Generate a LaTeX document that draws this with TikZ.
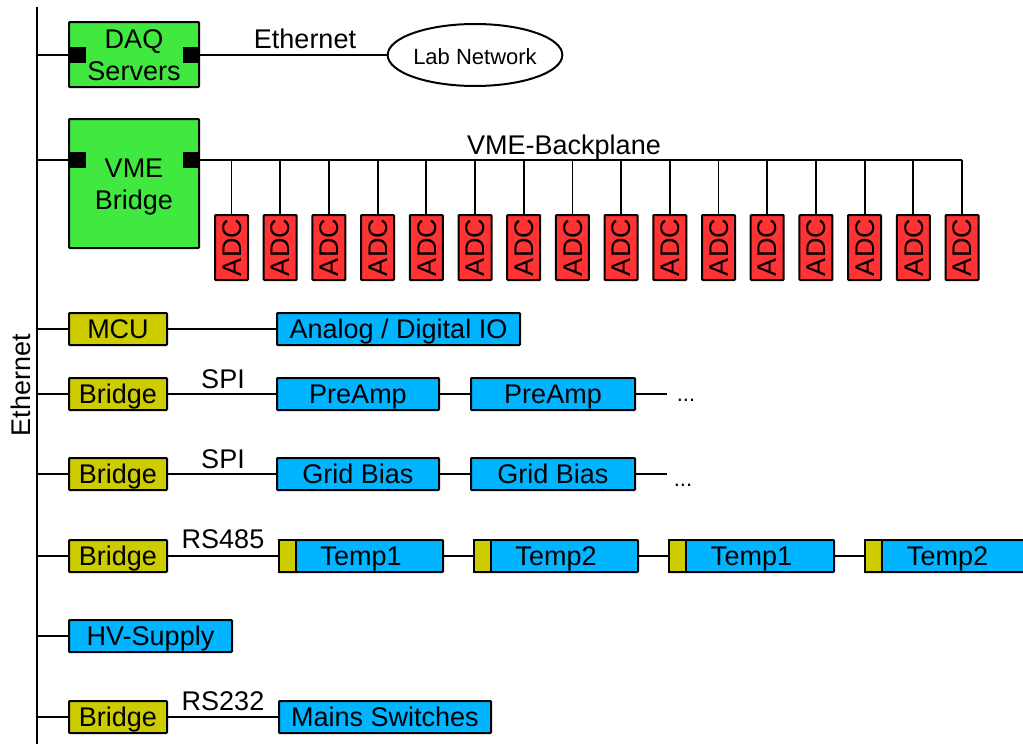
\documentclass[tikz,border=0pt]{standalone}
\usepackage{fontspec}
\setmainfont{Liberation Sans}
\usepackage{tikz}
\usetikzlibrary{shapes.geometric}

\definecolor{boxgreen}{RGB}{64,232,64}
\definecolor{boxred}{RGB}{255,51,51}
\definecolor{boxolive}{RGB}{204,204,0}
\definecolor{boxblue}{RGB}{0,180,255}

\begin{document}
\begin{tikzpicture}[x = 1pt, y = -1pt,
        every node/.style = {font=\fontsize{27}{32}\selectfont, inner sep=0pt,
                             text height=20pt, text depth=0.6pt},
        unit/.style = {draw, line width=2pt, rounded corners=0.8pt, align=center},
        server/.style = {unit, fill=boxgreen, minimum width=130, minimum height=65, text height=52pt},
        adc/.style = {unit, fill=boxred, minimum width=65, minimum height=33, rotate=90},
        ctrl/.style = {unit, fill=boxolive, minimum width=98, minimum height=32},
        device/.style = {unit, fill=boxblue, minimum height=32},
        port/.style = {fill=black, minimum width=17, minimum height=16, text height=0pt, text depth=0pt},
        tab/.style = {draw, line width=2pt, fill=boxolive, minimum width=17, minimum height=32,
                      text height=0pt, text depth=0pt},
        link/.style = {line width=1.8pt}]
        \useasboundingbox (0,0) rectangle (1023,744);

        % ethernet bus
        \coordinate (bus) at (37,7);
        \coordinate (busend) at (37,744);
        \draw [line width=2.4pt] (bus) -- (busend);
        \node [rotate=90] (ethlabel) at (21,385) {Ethernet};

        % DAQ servers and lab network
        \node [server] (daq) at (134,54.5) {DAQ\\Servers};
        \node [port] (daqL) at (77.5,55) {};
        \node [port] (daqR) at (191,55) {};
        \node [draw, ellipse, line width=2pt, minimum width=163, minimum height=62,
               font=\fontsize{22}{26}\selectfont] (lab) at (475,55) {Lab Network};
        \draw [link] (daqL -| bus) -- (daqL.west);
        \draw [link] (daqR.east) -- (lab.west);
        \node (ethlabel2) at (305,39) {Ethernet};

        % VME crate
        \node [server, minimum height=129] (vme) at (134,183.5) {VME\\Bridge};
        \node [port] (vmeL) at (77.5,160) {};
        \node [port] (vmeR) at (191,160) {};
        \coordinate (bpend) at (962,160);
        \draw [link] (vmeL -| bus) -- (vmeL.west);
        \draw [line width=2.4pt] (vmeR.east) -- (bpend);
        \node (bplabel) at (564,145) {VME-Backplane};

        \node [adc] (adc1)  at (231.5,247.5) {ADC};
        \node [adc] (adc2)  at (280.2,247.5) {ADC};
        \node [adc] (adc3)  at (328.9,247.5) {ADC};
        \node [adc] (adc4)  at (377.6,247.5) {ADC};
        \node [adc] (adc5)  at (426.3,247.5) {ADC};
        \node [adc] (adc6)  at (475.0,247.5) {ADC};
        \node [adc] (adc7)  at (523.7,247.5) {ADC};
        \node [adc] (adc8)  at (572.4,247.5) {ADC};
        \node [adc] (adc9)  at (621.1,247.5) {ADC};
        \node [adc] (adc10) at (669.8,247.5) {ADC};
        \node [adc] (adc11) at (718.5,247.5) {ADC};
        \node [adc] (adc12) at (767.2,247.5) {ADC};
        \node [adc] (adc13) at (815.9,247.5) {ADC};
        \node [adc] (adc14) at (864.6,247.5) {ADC};
        \node [adc] (adc15) at (913.3,247.5) {ADC};
        \node [adc] (adc16) at (962.0,247.5) {ADC};
        \draw [link] (adc1.center |- bpend) -- (adc1.east);
        \draw [link] (adc2.center |- bpend) -- (adc2.east);
        \draw [link] (adc3.center |- bpend) -- (adc3.east);
        \draw [link] (adc4.center |- bpend) -- (adc4.east);
        \draw [link] (adc5.center |- bpend) -- (adc5.east);
        \draw [link] (adc6.center |- bpend) -- (adc6.east);
        \draw [link] (adc7.center |- bpend) -- (adc7.east);
        \draw [link] (adc8.center |- bpend) -- (adc8.east);
        \draw [link] (adc9.center |- bpend) -- (adc9.east);
        \draw [link] (adc10.center |- bpend) -- (adc10.east);
        \draw [link] (adc11.center |- bpend) -- (adc11.east);
        \draw [link] (adc12.center |- bpend) -- (adc12.east);
        \draw [link] (adc13.center |- bpend) -- (adc13.east);
        \draw [link] (adc14.center |- bpend) -- (adc14.east);
        \draw [link] (adc15.center |- bpend) -- (adc15.east);
        \draw [link] (adc16.center |- bpend) -- (adc16.east);

        % MCU
        \node [ctrl] (mcu) at (118,329) {MCU};
        \node [device, minimum width=243] (aio) at (398.5,329) {Analog / Digital IO};
        \draw [link] (mcu.west -| bus) -- (mcu.west);
        \draw [link] (mcu.east) -- (aio.west);

        % preamps
        \node [ctrl] (brpre) at (118,394) {Bridge};
        \node [device, minimum width=162] (pre1) at (358,394) {PreAmp};
        \node [device, minimum width=164] (pre2) at (553,394) {PreAmp};
        \coordinate (preend) at (667,394);
        \draw [link] (brpre.west -| bus) -- (brpre.west);
        \draw [link] (brpre.east) -- (pre1.west);
        \draw [link] (pre1.east) -- (pre2.west);
        \draw [link] (pre2.east) -- (preend);
        \node (spi1) at (223,379) {SPI};
        \node [font=\fontsize{22}{26}\selectfont] (predots) at (686,392) {...};

        % grid bias
        \node [ctrl] (brgrid) at (118,474) {Bridge};
        \node [device, minimum width=162] (grid1) at (358,474) {Grid Bias};
        \node [device, minimum width=164] (grid2) at (553,474) {Grid Bias};
        \coordinate (gridend) at (667,474);
        \draw [link] (brgrid.west -| bus) -- (brgrid.west);
        \draw [link] (brgrid.east) -- (grid1.west);
        \draw [link] (grid1.east) -- (grid2.west);
        \draw [link] (grid2.east) -- (gridend);
        \node (spi2) at (223,459) {SPI};
        \node [font=\fontsize{22}{26}\selectfont] (griddots) at (683,477) {...};

        % temperature sensors
        \node [ctrl] (brtemp) at (118,556) {Bridge};
        \node [device, minimum width=164] (temp1) at (361,556) {Temp1};
        \node [device, minimum width=164] (temp2) at (556,556) {Temp2};
        \node [device, minimum width=165] (temp3) at (751.5,556) {Temp1};
        \node [device, minimum width=165] (temp4) at (947.5,556) {Temp2};
        \node [tab, anchor=west] (tab1) at (temp1.west) {};
        \node [tab, anchor=west] (tab2) at (temp2.west) {};
        \node [tab, anchor=west] (tab3) at (temp3.west) {};
        \node [tab, anchor=west] (tab4) at (temp4.west) {};
        \draw [link] (brtemp.west -| bus) -- (brtemp.west);
        \draw [link] (brtemp.east) -- (tab1.west);
        \draw [link] (temp1.east) -- (tab2.west);
        \draw [link] (temp2.east) -- (tab3.west);
        \draw [link] (temp3.east) -- (tab4.west);
        \node (rs485) at (223,539) {RS485};

        % high voltage
        \node [device, minimum width=163] (hv) at (150.5,636) {HV-Supply};
        \draw [link] (hv.west -| bus) -- (hv.west);

        % mains
        \node [ctrl] (brmains) at (118,717) {Bridge};
        \node [device, minimum width=212] (mains) at (385,717) {Mains Switches};
        \draw [link] (brmains.west -| bus) -- (brmains.west);
        \draw [link] (brmains.east) -- (mains.west);
        \node (rs232) at (223,701) {RS232};

    \end{tikzpicture}
\end{document}
